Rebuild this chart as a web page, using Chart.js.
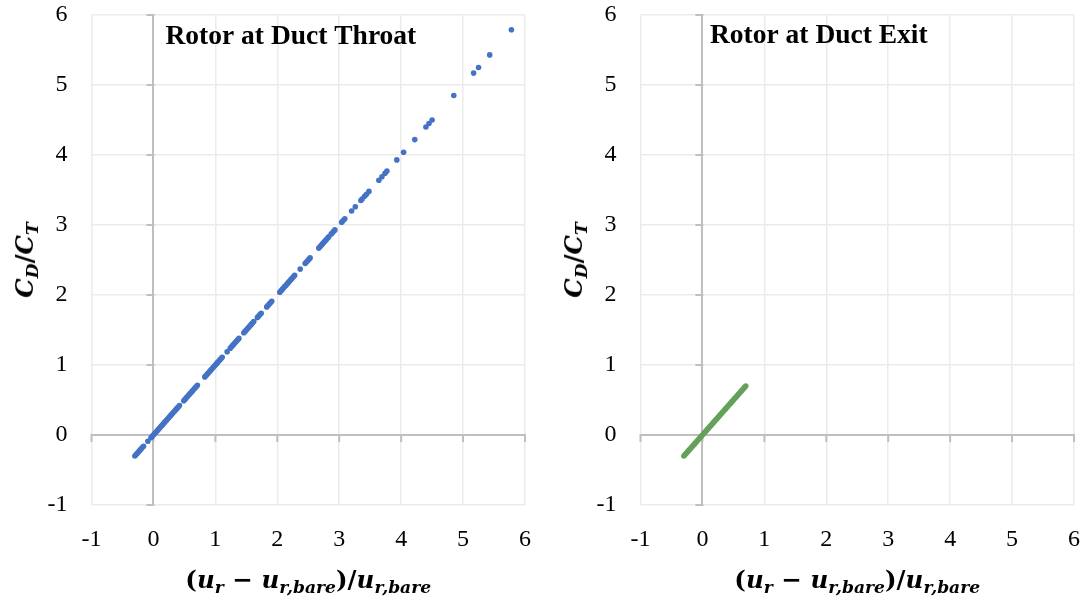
<!DOCTYPE html>
<html>
<head>
<meta charset="utf-8">
<script src="https://cdn.jsdelivr.net/npm/chart.js@4.4.1/dist/chart.umd.min.js"></script>
<style>
  html, body { margin: 0; padding: 0; background: #fff; overflow: hidden; }
  #wrap { position: relative; width: 1089px; height: 599px; }
  .panel { position: absolute; top: 0; width: 540px; height: 599px; }
  .panel canvas { position: absolute; left: 0; top: 0; }
  .math {
    position: absolute; white-space: nowrap; color: #000;
    font-family: "DejaVu Serif", serif; font-weight: bold; font-size: 24.5px;
    line-height: 34px;
  }
  .math i { font-style: italic; }
  .math sub { font-size: 0.7em; vertical-align: -0.32em; line-height: 0; font-style: italic; }
  .ytitle { transform: translate(-50%, -50%) rotate(-90deg); }
  .xtitle { transform: translate(-50%, -50%); }
</style>
</head>
<body>
<div id="wrap">
  <div class="panel" id="p1" style="left:0">
    <canvas id="c1" width="540" height="599"></canvas>
    <div class="math ytitle"><i>C</i><sub>D</sub>/<i>C</i><sub>T</sub></div>
    <div class="math xtitle">(<i>u</i><sub>r</sub> − <i>u</i><sub>r,bare</sub>)/<i>u</i><sub>r,bare</sub></div>
  </div>
  <div class="panel" id="p2" style="left:549px">
    <canvas id="c2" width="540" height="599"></canvas>
    <div class="math ytitle"><i>C</i><sub>D</sub>/<i>C</i><sub>T</sub></div>
    <div class="math xtitle">(<i>u</i><sub>r</sub> − <i>u</i><sub>r,bare</sub>)/<i>u</i><sub>r,bare</sub></div>
  </div>
</div>
<script>
// Axis range shared by both panels
const axisMin = -1;
const axisMax = 6;
const axisStep = 1;

// Rotor at duct throat: normalised velocity change vs drag/thrust ratio
const throatX = [
  -0.30, -0.28, -0.26, -0.24, -0.22, -0.20, -0.18, -0.16,
  -0.09,
  -0.04, -0.02, 0.00, 0.02, 0.04, 0.06, 0.08, 0.10, 0.12, 0.14, 0.16, 0.18,
  0.20, 0.22, 0.24, 0.26, 0.28, 0.30, 0.32, 0.34, 0.36, 0.38, 0.40, 0.42,
  0.49, 0.51, 0.53, 0.55, 0.57, 0.59, 0.61, 0.63, 0.65, 0.67, 0.69, 0.71,
  0.83, 0.85, 0.87, 0.89, 0.91, 0.93, 0.95, 0.97, 0.99, 1.01, 1.03, 1.05, 1.07, 1.09, 1.11,
  1.19,
  1.24, 1.26, 1.28, 1.30, 1.32, 1.34, 1.36, 1.38,
  1.46, 1.48, 1.50, 1.52, 1.54, 1.56, 1.58, 1.60, 1.62,
  1.68, 1.70, 1.72, 1.74,
  1.83, 1.85, 1.87, 1.89, 1.91,
  2.04, 2.06, 2.08, 2.10, 2.12, 2.14, 2.16, 2.18, 2.20, 2.22, 2.24, 2.26, 2.28,
  2.37,
  2.45, 2.47, 2.49, 2.51, 2.53,
  2.67, 2.69, 2.71, 2.73, 2.75, 2.77, 2.79, 2.81, 2.83,
  2.87, 2.89, 2.91, 2.93,
  3.04, 3.06, 3.09,
  3.20, 3.26,
  3.35, 3.37, 3.41, 3.44, 3.48,
  3.64, 3.69, 3.74, 3.77,
  3.93, 4.04, 4.22,
  4.40, 4.45, 4.50,
  4.85, 5.17, 5.25, 5.43, 5.78
];
const throatY = [
  -0.30, -0.28, -0.26, -0.24, -0.22, -0.20, -0.18, -0.16,
  -0.09,
  -0.04, -0.02, 0.00, 0.02, 0.04, 0.06, 0.08, 0.10, 0.12, 0.14, 0.16, 0.18,
  0.20, 0.22, 0.24, 0.26, 0.28, 0.30, 0.32, 0.34, 0.36, 0.38, 0.40, 0.42,
  0.49, 0.51, 0.53, 0.55, 0.57, 0.59, 0.61, 0.63, 0.65, 0.67, 0.69, 0.71,
  0.83, 0.85, 0.87, 0.89, 0.91, 0.93, 0.95, 0.97, 0.99, 1.01, 1.03, 1.05, 1.07, 1.09, 1.11,
  1.19,
  1.24, 1.26, 1.28, 1.30, 1.32, 1.34, 1.36, 1.38,
  1.46, 1.48, 1.50, 1.52, 1.54, 1.56, 1.58, 1.60, 1.62,
  1.68, 1.70, 1.72, 1.74,
  1.83, 1.85, 1.87, 1.89, 1.91,
  2.04, 2.06, 2.08, 2.10, 2.12, 2.14, 2.16, 2.18, 2.20, 2.22, 2.24, 2.26, 2.28,
  2.37,
  2.45, 2.47, 2.49, 2.51, 2.53,
  2.67, 2.69, 2.71, 2.73, 2.75, 2.77, 2.79, 2.81, 2.83,
  2.87, 2.89, 2.91, 2.93,
  3.04, 3.06, 3.09,
  3.20, 3.26,
  3.35, 3.37, 3.41, 3.44, 3.48,
  3.64, 3.69, 3.74, 3.77,
  3.93, 4.04, 4.22,
  4.40, 4.45, 4.50,
  4.85, 5.17, 5.25, 5.43, 5.79
];

// Rotor at duct exit
const exitX = [
  -0.30, -0.28, -0.26, -0.24, -0.22, -0.20, -0.18, -0.16, -0.14, -0.12, -0.10,
  -0.08, -0.06, -0.04, -0.02, 0.00, 0.02, 0.04, 0.06, 0.08, 0.10, 0.12, 0.14,
  0.16, 0.18, 0.20, 0.22, 0.24, 0.26, 0.28, 0.30, 0.32, 0.34, 0.36, 0.38, 0.40,
  0.42, 0.44, 0.46, 0.48, 0.50, 0.52, 0.54, 0.56, 0.58, 0.60, 0.62, 0.64, 0.66,
  0.68, 0.70
];
const exitY = [
  -0.30, -0.28, -0.26, -0.24, -0.22, -0.20, -0.18, -0.16, -0.14, -0.12, -0.10,
  -0.08, -0.06, -0.04, -0.02, 0.00, 0.02, 0.04, 0.06, 0.08, 0.10, 0.12, 0.14,
  0.16, 0.18, 0.20, 0.22, 0.24, 0.26, 0.28, 0.30, 0.32, 0.34, 0.36, 0.38, 0.40,
  0.42, 0.44, 0.46, 0.48, 0.50, 0.52, 0.54, 0.56, 0.58, 0.60, 0.62, 0.64, 0.66,
  0.68, 0.70
];

const AXIS_GREY = '#bfbfbf';
const GRID_GREY = '#ebebeb';
const tickFont = { family: '"Liberation Serif", "Times New Roman", serif', size: 24 };

function toPoints(xs, ys) {
  return xs.map((x, i) => ({ x: x, y: ys[i] }));
}

// Short outward tick marks on the axes that cross at the origin
const zeroAxisTicks = {
  id: 'zeroAxisTicks',
  beforeDatasetsDraw(chart) {
    const { ctx, scales: { x, y } } = chart;
    const x0 = x.getPixelForValue(0);
    const y0 = y.getPixelForValue(0);
    ctx.save();
    ctx.strokeStyle = AXIS_GREY;
    ctx.lineWidth = 2;
    ctx.beginPath();
    y.ticks.forEach(t => {
      const py = y.getPixelForValue(t.value);
      ctx.moveTo(x0 - 7, py);
      ctx.lineTo(x0 + 1, py);
    });
    x.ticks.forEach(t => {
      const px = x.getPixelForValue(t.value);
      ctx.moveTo(px, y0 - 1);
      ctx.lineTo(px, y0 + 7);
    });
    ctx.stroke();
    ctx.restore();
  }
};

// Panel caption written inside the plot area
const panelCaption = {
  id: 'panelCaption',
  afterDatasetsDraw(chart, args, opts) {
    const { ctx, chartArea } = chart;
    ctx.save();
    ctx.font = 'bold 27.5px "Liberation Serif", "Times New Roman", serif';
    ctx.fillStyle = '#000';
    ctx.textBaseline = 'alphabetic';
    ctx.textAlign = 'left';
    ctx.fillText(opts.text, chartArea.left + opts.dx, chartArea.top + opts.dy);
    ctx.restore();
  }
};

function gridColor(c) { return c.tick && c.tick.value === 0 ? AXIS_GREY : GRID_GREY; }
function gridWidth(c) { return c.tick && c.tick.value === 0 ? 2 : 1.5; }

function makeChart(canvasId, xs, ys, colour, caption, dx, dy) {
  return new Chart(document.getElementById(canvasId), {
    type: 'scatter',
    data: {
      datasets: [{
        data: toPoints(xs, ys),
        backgroundColor: colour,
        borderColor: colour,
        pointRadius: 2.8,
        pointBorderWidth: 0,
        pointStyle: 'circle',
        showLine: false
      }]
    },
    options: {
      responsive: false,
      animation: false,
      devicePixelRatio: 1,
      layout: { padding: { top: 15, right: 15, bottom: 0, left: 0 } },
      plugins: {
        legend: { display: false },
        tooltip: { enabled: false },
        panelCaption: { text: caption, dx: dx, dy: dy }
      },
      scales: {
        x: {
          type: 'linear', min: axisMin, max: axisMax,
          ticks: { stepSize: axisStep, padding: 0, font: tickFont, color: '#000', maxRotation: 0, autoSkip: false },
          grid: { color: gridColor, lineWidth: gridWidth, drawTicks: true, tickLength: 20, tickColor: 'rgba(0,0,0,0)' },
          border: { display: false },
          afterFit(s) { s.height = 94; }
        },
        y: {
          type: 'linear', min: axisMin, max: axisMax,
          ticks: { stepSize: axisStep, padding: 0, font: tickFont, color: '#000', autoSkip: false },
          grid: { color: gridColor, lineWidth: gridWidth, drawTicks: true, tickLength: 24, tickColor: 'rgba(0,0,0,0)' },
          border: { display: false },
          afterFit(s) { s.width = 91.5; }
        }
      }
    },
    plugins: [zeroAxisTicks, panelCaption]
  });
}

const charts = [
  { chart: makeChart('c1', throatX, throatY, '#4472C4', 'Rotor at Duct Throat', 74, 29.3), panel: 'p1' },
  { chart: makeChart('c2', exitX, exitY, '#64A15A', 'Rotor at Duct Exit', 69.5, 28.3), panel: 'p2' }
];

// Place the axis titles relative to each plot area
charts.forEach(({ chart, panel }) => {
  const area = chart.chartArea;
  const p = document.getElementById(panel);
  const yt = p.querySelector('.ytitle');
  const xt = p.querySelector('.xtitle');
  yt.style.left = (area.left - 67) + 'px';
  yt.style.top = ((area.top + area.bottom) / 2) + 'px';
  xt.style.left = ((area.left + area.right) / 2) + 'px';
  xt.style.top = '580px';
});
</script>
</body>
</html>
